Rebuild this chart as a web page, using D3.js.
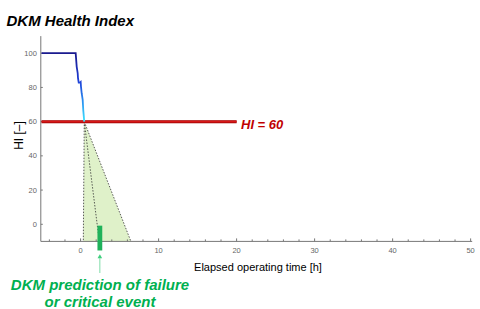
<!DOCTYPE html>
<html>
<head>
<meta charset="utf-8">
<script src="https://cdn.jsdelivr.net/npm/d3@7"></script>
<style>
  body { margin: 0; background: #fff; }
  svg { display: block; font-family: "Liberation Sans", Arial, sans-serif; }
</style>
</head>
<body>
<div id="chart"></div>
<script>
// health index trace (time [h], HI)
var hiTime = [-5, -0.63, -0.5, -0.37, -0.33, -0.24, -0.08, 0.01, 0.05, 0.14, 0.27, 0.34, 0.47];
var hiValue = [100, 100, 92.2, 88.3, 85.4, 82.8, 82.8, 83.2, 80.5, 76.6, 72.7, 66.9, 60];
// threshold
var threshold = 60, thresholdStart = -5, thresholdEnd = 20;
// prediction cone: apex, lower, median, upper end times at HI = -10
var coneApex = [0.47, 60];
var coneEnds = [0.35, 2.4, 6.45];
var predTime = 2.47, predTop = -0.8;
var xTicks = [0, 10, 20, 30, 40, 50];
var yTicks = [0, 20, 40, 60, 80, 100];

var width = 480, height = 309;
var x = d3.scaleLinear().domain([-5.1, 50.2]).range([40.8, 472.2]);
var y = d3.scaleLinear().domain([-10, 110]).range([241.4, 36.1]);

var svg = d3.select('#chart').append('svg')
    .attr('width', width)
    .attr('height', height);

var defs = svg.append('defs');
var grad = defs.append('linearGradient')
    .attr('id', 'hi-grad')
    .attr('gradientUnits', 'userSpaceOnUse')
    .attr('x1', 0).attr('x2', 0)
    .attr('y1', y(100)).attr('y2', y(60));
grad.append('stop').attr('offset', '0%').attr('stop-color', '#1a1a8e');
grad.append('stop').attr('offset', '40%').attr('stop-color', '#1f3fd6');
grad.append('stop').attr('offset', '70%').attr('stop-color', '#2b8ff0');
grad.append('stop').attr('offset', '100%').attr('stop-color', '#3ee6ff');

// cone fill
var apex = [x(coneApex[0]), y(coneApex[1])];
svg.append('polygon')
    .attr('points', [apex, [x(coneEnds[0]), y(-10)], [x(coneEnds[2]), y(-10)]].map(function (p) { return p.join(','); }).join(' '))
    .attr('fill', '#dff1c9');

// axes
var gx = svg.append('g').attr('transform', 'translate(0,' + y(-10) + ')');
gx.append('line').attr('x1', x(-5.1)).attr('x2', x(50.2)).attr('stroke', '#777').attr('stroke-width', 1);
gx.selectAll('.minor').data(d3.range(-4, 51, 2)).enter().append('line')
    .attr('x1', function (d) { return x(d); }).attr('x2', function (d) { return x(d); })
    .attr('y1', 0).attr('y2', function (d) { return d % 10 === 0 ? -3 : -2; })
    .attr('stroke', '#777');
gx.selectAll('.lbl').data(xTicks).enter().append('text')
    .attr('x', function (d) { return x(d); })
    .attr('y', 12)
    .attr('text-anchor', 'middle')
    .attr('font-size', 7.5)
    .attr('fill', '#666')
    .text(function (d) { return d; });

var gy = svg.append('g').attr('transform', 'translate(' + x(-5.1) + ',0)');
gy.append('line').attr('y1', y(-10)).attr('y2', y(110)).attr('stroke', '#777');
gy.selectAll('.tk').data(yTicks).enter().append('line')
    .attr('y1', function (d) { return y(d); }).attr('y2', function (d) { return y(d); })
    .attr('x1', 0).attr('x2', 2).attr('stroke', '#777');
gy.selectAll('.lbl').data(yTicks).enter().append('text')
    .attr('x', -4)
    .attr('y', function (d) { return y(d) + 2.6; })
    .attr('text-anchor', 'end')
    .attr('font-size', 7.5)
    .attr('fill', '#666')
    .text(function (d) { return d; });

// cone edges
[0, 1, 2].forEach(function (i) {
    svg.append('line')
        .attr('x1', apex[0]).attr('y1', apex[1])
        .attr('x2', x(coneEnds[i])).attr('y2', y(-10))
        .attr('stroke', '#333')
        .attr('stroke-width', 0.8)
        .attr('stroke-dasharray', '1.5,1.5');
});

// threshold line
svg.append('line')
    .attr('x1', x(thresholdStart)).attr('x2', x(thresholdEnd))
    .attr('y1', y(threshold)).attr('y2', y(threshold))
    .attr('stroke', '#9a0000').attr('stroke-width', 3);
svg.append('line')
    .attr('x1', x(thresholdStart)).attr('x2', x(thresholdEnd))
    .attr('y1', y(threshold)).attr('y2', y(threshold))
    .attr('stroke', '#d81818').attr('stroke-width', 1.6);
svg.append('text')
    .attr('x', 241).attr('y', 129.3)
    .attr('font-size', 13).attr('font-weight', 'bold').attr('font-style', 'italic')
    .attr('fill', '#c00000')
    .text('HI = 60');

// health index line
var line = d3.line()
    .x(function (d, i) { return x(hiTime[i]); })
    .y(function (d) { return y(d); });
svg.append('path')
    .attr('d', line(hiValue))
    .attr('fill', 'none')
    .attr('stroke', 'url(#hi-grad)')
    .attr('stroke-width', 1.8);

// predicted failure marker
svg.append('rect')
    .attr('x', x(predTime) - 2.4)
    .attr('y', y(predTop))
    .attr('width', 4.8)
    .attr('height', y(-15.3) - y(predTop))
    .attr('fill', '#1fb25a');
var ax = x(predTime);
svg.append('polygon')
    .attr('points', [[ax, 254.3], [ax - 2.3, 258.3], [ax + 2.3, 258.3]].map(function (p) { return p.join(','); }).join(' '))
    .attr('fill', '#3fcf7e');
svg.append('line')
    .attr('x1', ax).attr('x2', ax).attr('y1', 258).attr('y2', 273)
    .attr('stroke', '#7fdca8').attr('stroke-width', 1);

// texts
svg.append('text')
    .attr('x', 6.5).attr('y', 26)
    .attr('font-size', 15).attr('font-weight', 'bold').attr('font-style', 'italic')
    .attr('fill', '#000')
    .text('DKM Health Index');
svg.append('text')
    .attr('transform', 'translate(22.7,135.5) rotate(-90)')
    .attr('text-anchor', 'middle')
    .attr('font-size', 12)
    .attr('fill', '#000')
    .text('HI [\u2013]');
svg.append('text')
    .attr('x', 258).attr('y', 271)
    .attr('text-anchor', 'middle')
    .attr('font-size', 11)
    .attr('fill', '#000')
    .text('Elapsed operating time [h]');
var green = svg.append('text')
    .attr('text-anchor', 'middle')
    .attr('font-size', 15).attr('font-weight', 'bold').attr('font-style', 'italic')
    .attr('fill', '#00b050');
green.append('tspan').attr('x', 100).attr('y', 289.5).text('DKM prediction of failure');
green.append('tspan').attr('x', 100).attr('y', 306.5).text('or critical event');
</script>
</body>
</html>
